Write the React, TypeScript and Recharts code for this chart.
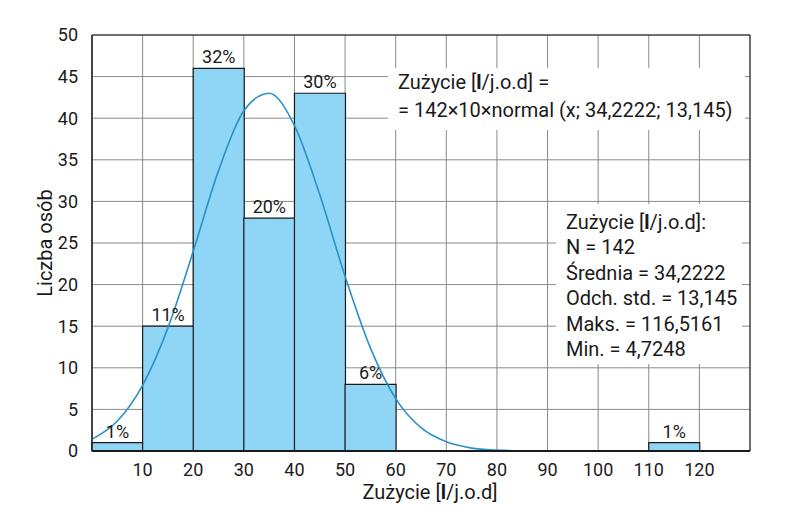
import {
  Bar,
  CartesianGrid,
  ComposedChart,
  LabelList,
  Line,
  ReferenceArea,
  XAxis,
  YAxis,
} from "recharts";

// histogram bins (10 l/j.o.d wide)
const bins = ["0-10", "10-20", "20-30", "30-40", "40-50", "50-60", "60-70", "70-80", "80-90", "90-100", "100-110", "110-120", "120-130"];
const counts = [1, 15, 46, 28, 43, 8, null, null, null, null, null, 1, null];
const percents = ["1%", "11%", "32%", "20%", "30%", "6%", "", "", "", "", "", "1%", ""];

// fitted curve
const curveX = [0, 5, 10, 15, 20, 25, 30, 35, 40, 45, 50, 55, 60, 65, 70, 75, 80, 85, 90, 95, 100, 105, 110, 115, 120, 125, 130];
const curveY = [1.4, 3.6, 7.9, 14.8, 24, 33.7, 40.9, 43, 39.1, 30.8, 21, 12.4, 6.3, 2.8, 1.1, 0.35, 0.1, 0.02, 0, 0, 0, 0, 0, 0, 0, 0, 0];

const xTicks = [10, 20, 30, 40, 50, 60, 70, 80, 90, 100, 110, 120];
const yTicks = [0, 5, 10, 15, 20, 25, 30, 35, 40, 45, 50];

const statsLines = [
  "N = 142",
  "Średnia = 34,2222",
  "Odch. std. = 13,145",
  "Maks. = 116,5161",
  "Min. = 4,7248",
];

const FONT = "'Liberation Sans Narrow', 'Roboto', sans-serif";

const barData = bins.map((bin, i) => ({bin, count: counts[i], pct: percents[i]}));
const curveData = curveX.map((x, i) => ({x, y: curveY[i]}));

const Unit = () => (
  <>
    [<b>l</b>/j.o.d]
  </>
);

export default function App() {
  return (
    <div style={{position: "absolute", left: 0, top: 0, width: 802, height: 528, background: "#fff", fontFamily: FONT, color: "#1a1a1a"}}>
      <ComposedChart
        width={802}
        height={528}
        data={barData}
        margin={{top: 35, right: 52, bottom: 47, left: 52}}
        barCategoryGap={0}
      >
        <CartesianGrid xAxisId="num" stroke="#8a8a8a" strokeWidth={1} />
        <XAxis xAxisId="bins" dataKey="bin" type="category" hide height={0} />
        <XAxis
          xAxisId="num"
          dataKey="x"
          type="number"
          domain={[0, 130]}
          ticks={xTicks}
          allowDataOverflow
          height={30}
          tickLine={false}
          axisLine={{stroke: "#1a1a1a", strokeWidth: 2}}
          tick={{fill: "#1a1a1a", fontSize: 18, fontFamily: FONT}}
          tickMargin={6}
        />
        <YAxis
          domain={[0, 50]}
          ticks={yTicks}
          width={40}
          tickLine={false}
          axisLine={{stroke: "#1a1a1a"}}
          tick={{fill: "#1a1a1a", fontSize: 18, fontFamily: FONT}}
          tickMargin={8}
        />
        <Bar xAxisId="bins" dataKey="count" fill="#8fd6f6" stroke="#1a1a1a" strokeWidth={1.2} isAnimationActive={false}>
          <LabelList dataKey="pct" position="top" offset={5} fill="#1a1a1a" fontSize={18} fontFamily={FONT} />
        </Bar>
        <Line
          xAxisId="num"
          data={curveData}
          dataKey="y"
          type="monotone"
          stroke="#2a90c8"
          strokeWidth={1.6}
          dot={false}
          activeDot={false}
          isAnimationActive={false}
        />
        <ReferenceArea xAxisId="num" x1={0} x2={130} y1={0} y2={50} fill="none" stroke="#1a1a1a" strokeWidth={1} />
      </ComposedChart>

      {/* formula box */}
      <div style={{position: "absolute", left: 388, top: 68, width: 357, height: 62, background: "#fff", fontSize: 20, lineHeight: "28px", paddingLeft: 10, boxSizing: "border-box", whiteSpace: "nowrap"}}>
        <div>Zużycie <Unit /> =</div>
        <div>= 142×10×normal (x; 34,2222; 13,145)</div>
      </div>

      {/* stats box */}
      <div style={{position: "absolute", left: 556, top: 204, width: 186, height: 160, background: "#fff", fontSize: 20, lineHeight: "25.4px", paddingLeft: 10, paddingTop: 6, boxSizing: "border-box", whiteSpace: "nowrap"}}>
        <div>Zużycie <Unit />:</div>
        {statsLines.map((s) => (
          <div key={s}>{s}</div>
        ))}
      </div>

      {/* axis titles */}
      <div style={{position: "absolute", left: 330, top: 480, width: 200, textAlign: "center", fontSize: 20, whiteSpace: "nowrap"}}>
        Zużycie <Unit />
      </div>
      <div style={{position: "absolute", left: 45, top: 243, transform: "translate(-50%, -50%) rotate(-90deg)", fontSize: 20, whiteSpace: "nowrap"}}>
        Liczba osób
      </div>
    </div>
  );
}
